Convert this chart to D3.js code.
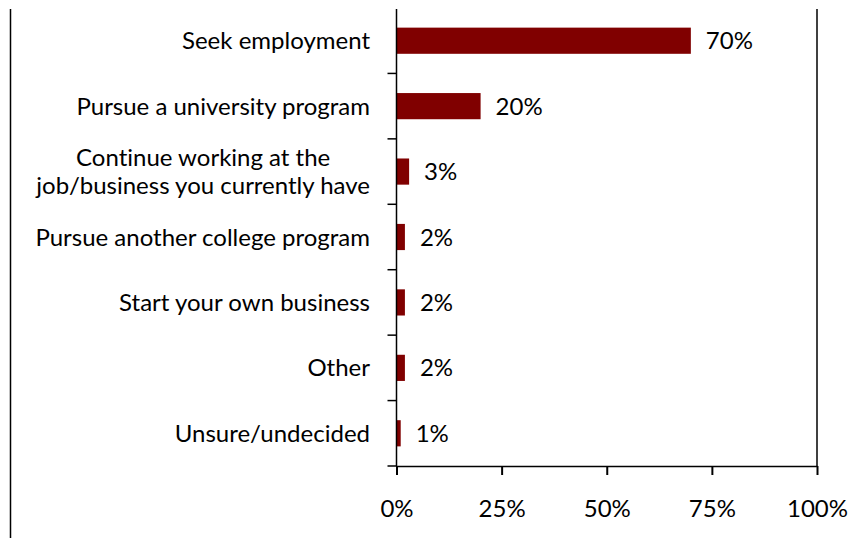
<!DOCTYPE html>
<html>
<head>
<meta charset="utf-8">
<script src="https://cdn.jsdelivr.net/npm/d3@7"></script>
<style>
  html, body { margin: 0; padding: 0; background: #fff; }
  svg { display: block; }
  text { font-family: Lato, "Open Sans", sans-serif; fill: #000; font-variant-ligatures: none; }
</style>
</head>
<body>
<svg id="chart" width="852" height="538"></svg>
<script>
// Post-graduation plans (share of respondents)
const categories = [
  ["Seek employment"],
  ["Pursue a university program"],
  ["Continue working at the", "job/business you currently have"],
  ["Pursue another college program"],
  ["Start your own business"],
  ["Other"],
  ["Unsure/undecided"]
];
const values = [70, 20, 3, 2, 2, 2, 1];
const xTicks = [0, 25, 50, 75, 100];

const svg = d3.select("#chart");
const fontSize = 24;
const barColor = "#800000";

const plot = { left: 396.5, right: 817, top: 8, bottom: 466 };

const x = d3.scaleLinear().domain([0, 100]).range([plot.left, plot.right]);
const y = d3.scaleBand()
  .domain(d3.range(categories.length))
  .range([plot.top, plot.bottom])
  .paddingInner(0.6)
  .paddingOuter(0.3);

// outer frame line on the left
svg.append("line")
  .attr("x1", 10.5).attr("x2", 10.5)
  .attr("y1", 9).attr("y2", 538)
  .attr("stroke", "#000").attr("stroke-width", 1.5);

// right edge of the plot area
svg.append("line")
  .attr("x1", x(100)).attr("x2", x(100))
  .attr("y1", 9).attr("y2", plot.bottom)
  .attr("stroke", "#000").attr("stroke-width", 1.5);

// bars
svg.append("g").selectAll("rect")
  .data(values)
  .join("rect")
  .attr("x", x(0))
  .attr("y", (d, i) => y(i))
  .attr("width", d => x(d) - x(0))
  .attr("height", y.bandwidth())
  .attr("fill", barColor);

// value labels
svg.append("g").selectAll("text")
  .data(values)
  .join("text")
  .attr("x", d => x(d) + 15)
  .attr("y", (d, i) => y(i) + y.bandwidth() / 2)
  .attr("dy", "0.36em")
  .attr("font-size", fontSize)
  .text(d => d + "%");

// bottom axis
const xAxis = d3.axisBottom(x)
  .tickValues(xTicks)
  .tickFormat(d => d + "%")
  .tickSize(9)
  .tickSizeOuter(0)
  .tickPadding(25);
const gx = svg.append("g")
  .attr("transform", `translate(0,${plot.bottom})`)
  .call(xAxis);
gx.select(".domain").attr("stroke-width", 1.5);
gx.selectAll(".tick line").attr("stroke-width", 2);
gx.selectAll(".tick text")
  .attr("font-size", fontSize)
  .attr("font-family", "Lato, 'Open Sans', sans-serif")
  .attr("fill", "#000");

// left axis with ticks between categories
const step = y.step();
const boundaries = d3.range(1, categories.length + 1).map(i => plot.top + i * step);
svg.append("line")
  .attr("x1", plot.left).attr("x2", plot.left)
  .attr("y1", 9).attr("y2", plot.bottom)
  .attr("stroke", "#000").attr("stroke-width", 1.5);
svg.append("g").selectAll("line")
  .data(boundaries)
  .join("line")
  .attr("x1", plot.left - 9).attr("x2", plot.left)
  .attr("y1", d => d).attr("y2", d => d)
  .attr("stroke", "#000").attr("stroke-width", 1.5);

// category labels: right aligned beside the axis, wrapped lines centred in their block
const labelRight = 370;
const lineGap = 28;
const labels = svg.append("g");
categories.forEach((lines, i) => {
  const cy = y(i) + y.bandwidth() / 2;
  const g = labels.append("g");
  const t = g.selectAll("text")
    .data(lines)
    .join("text")
    .attr("font-size", fontSize)
    .attr("y", (d, k) => cy + (k - (lines.length - 1) / 2) * lineGap)
    .attr("dy", "0.36em")
    .text(d => d);
  if (lines.length === 1) {
    t.attr("x", labelRight).attr("text-anchor", "end");
  } else {
    const w = d3.max(t.nodes(), n => n.getComputedTextLength());
    t.attr("x", labelRight - w / 2).attr("text-anchor", "middle");
  }
});
</script>
</body>
</html>
